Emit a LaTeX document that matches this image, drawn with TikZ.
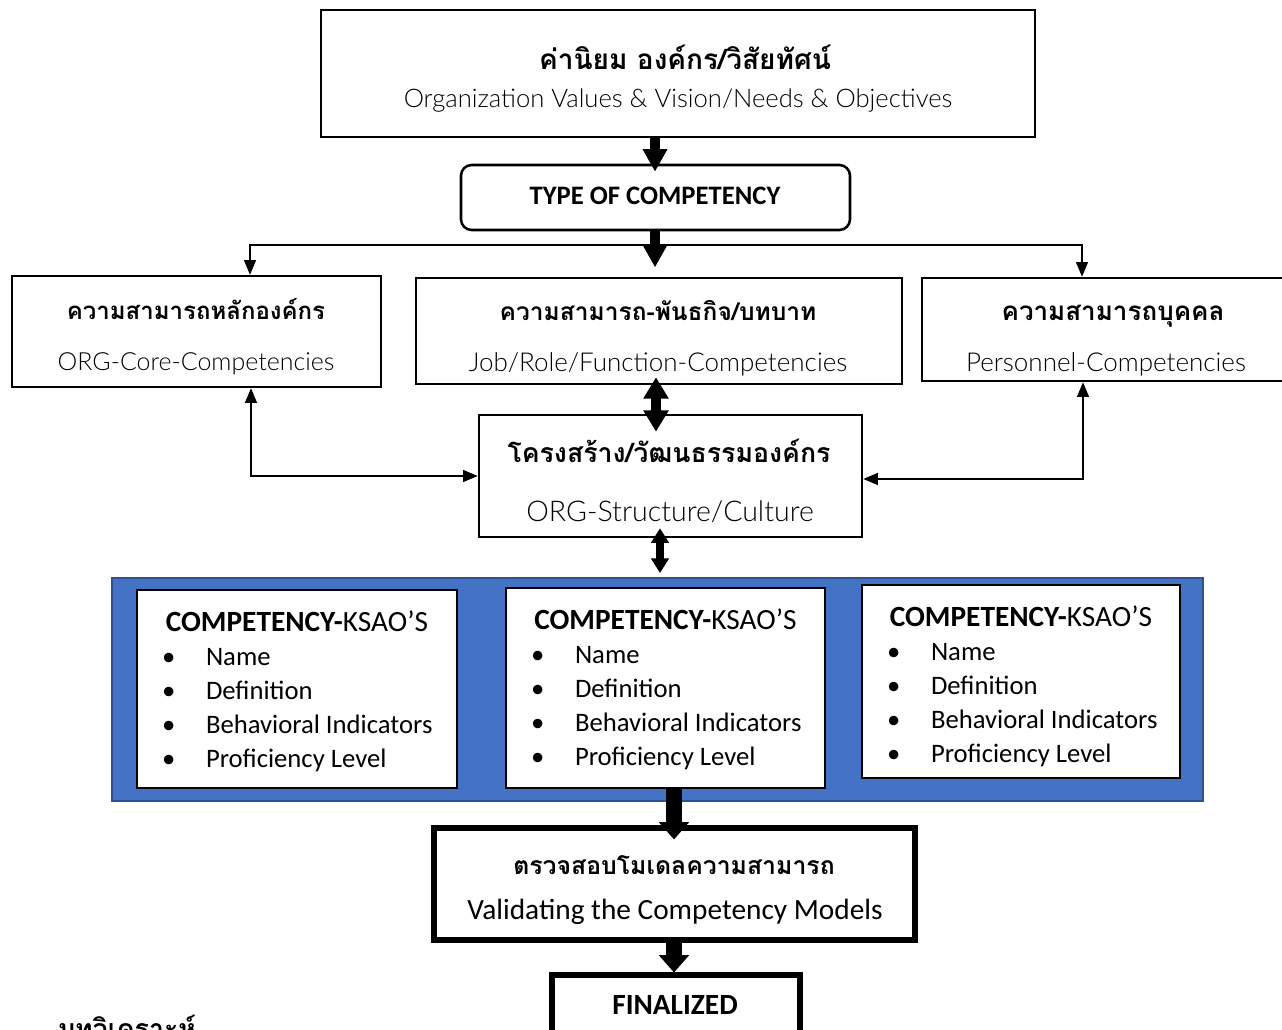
\documentclass[tikz,border=0pt]{standalone}
\usepackage{fontspec}
\setmainfont{Carlito}
\newfontfamily\thaifont[Script=Thai]{Loma}
\newfontfamily\lightfont{Lato Light}
\usetikzlibrary{arrows.meta,fit,calc}

\definecolor{panelblue}{HTML}{4472C4}
\definecolor{paneledge}{HTML}{2F528F}

\tikzset{
  box/.style={draw, line width=1.9pt, fill=white, inner sep=0pt},
  heavybox/.style={draw, line width=3.8pt, fill=white, inner sep=0pt},
  panel/.style={draw=paneledge, line width=1.5pt, fill=panelblue, inner sep=0pt},
  thaihead/.style={font=\thaifont\bfseries\fontsize{#1}{#1}\selectfont, inner sep=0pt, anchor=base},
  lightline/.style={font=\lightfont\fontsize{#1}{#1}\selectfont, inner sep=0pt, anchor=base},
  calline/.style={font=\fontsize{#1}{#1}\selectfont, inner sep=0pt, anchor=base},
  calbold/.style={font=\bfseries\fontsize{#1}{#1}\selectfont, inner sep=0pt, anchor=base},
  fatarrow/.style={line width=7.2pt, -{Triangle[width=17.5pt,length=17pt]}},
  fatboth/.style={line width=8pt, {Triangle[width=18pt,length=16pt]}-{Triangle[width=18pt,length=16pt]}},
  slimboth/.style={line width=5.5pt, {Triangle[width=13pt,length=11pt]}-{Triangle[width=13pt,length=11pt]}},
  heavyarrow/.style={line width=12pt, -{Triangle[width=22pt,length=13pt]}},
  link/.style={line width=0.9pt, -{Triangle[width=9pt,length=11pt]}},
  linkboth/.style={line width=0.9pt, {Triangle[width=9pt,length=11pt]}-{Triangle[width=9pt,length=11pt]}},
}

\begin{document}
\begin{tikzpicture}[x=0.75pt,y=-0.75pt]
\clip (0,0) rectangle (1282,1030);
\fill[white] (0,0) rectangle (1282,1030);

% guide coordinates for the vertical connectors
\coordinate (ax) at (655,0);
\coordinate (dx) at (656,0);
\coordinate (bx) at (660,0);
\coordinate (cx) at (674,0);
\coordinate (sl) at (250,245);
\coordinate (sr) at (1082,245);
\coordinate (lc) at (251,476);
\coordinate (rc) at (1083,479);

% top: values and vision
\node[box, line width=2.2pt, fit={(321,10) (1035,137)}] (values) {};
\node[thaihead=21pt] (valuesTh) at (685,70) {ค่านิยม องค์กร/วิสัยทัศน์};
\node[lightline=19.2pt] (valuesEn) at (678,108) {Organization Values \& Vision/Needs \& Objectives};

% type of competency
\node[box, rounded corners=8pt, fit={(461,165) (850,230)}] (type) {};
\node[calbold=20pt] (typeTx) at (655,205) {TYPE OF COMPETENCY};

% three kinds of competency
\node[box, fit={(12,276) (381,387)}] (left) {};
\node[thaihead=18pt] (leftTh) at (196,320) {ความสามารถหลักองค์กร};
\node[lightline=18.7pt] (leftEn) at (196,371) {ORG-Core-Competencies};

\node[box, fit={(416,278) (902,384)}] (mid) {};
\node[thaihead=18.4pt] (midTh) at (658,321) {ความสามารถ-พันธกิจ/บทบาท};
\node[lightline=19.5pt] (midEn) at (658,372) {Job/Role/Function-Competencies};

\node[box, fit={(922,278) (1300,381)}] (right) {};
\node[thaihead=19.5pt] (rightTh) at (1113,321) {ความสามารถบุคคล};
\node[lightline=19.5pt] (rightEn) at (1106,372) {Personnel-Competencies};

% structure / culture
\node[box, fit={(479,415) (862,537)}] (struct) {};
\node[thaihead=20pt] (structTh) at (669,463) {โครงสร้าง/วัฒนธรรมองค์กร};
\node[lightline=21.4pt] (structEn) at (670,522) {ORG-Structure/Culture};

% KSAO panel
\node[panel, fit={(112,578) (1203,801)}] (panel) {};
\node[box, fit={(137,590) (457,788)}] (k1) {};
\node[box, fit={(506,588) (825,788)}] (k2) {};
\node[box, fit={(862,585) (1180,778)}] (k3) {};
\foreach \k in {1,2,3}{
  \node[calbold=22pt] (k\k-title) at ($(k\k.north)+(0,43)$) {COMPETENCY-\mdseries KSAO’S};
  \foreach \t [count=\i from 0] in {Name,Definition,Behavioral Indicators,Proficiency Level}{
    \node[calline=20pt] (k\k-dot\i) at ($(k\k.north west)+(33,77+34*\i)$) {•};
    \node[calline=20pt, anchor=base west] (k\k-item\i) at ($(k\k.north west)+(70,77+34*\i)$) {\t};
  }
}

% validation and final
\node[heavybox, fit={(434,828) (915,940)}] (valid) {};
\node[thaihead=18.6pt] (validTh) at (674,874) {ตรวจสอบโมเดลความสามารถ};
\node[calline=22pt] (validEn) at (675,919) {Validating the Competency Models};

\node[heavybox, fit={(552,975) (800,1070)}] (final) {};
\node[calbold=22pt] (finalTx) at (675,1014) {FINALIZED};

\node[thaihead=20pt, anchor=base west] (analysis) at (58,1038) {บทวิเคราะห์};

% thin connectors
\draw[link] (ax |- sl) -| (left.north -| sl);
\draw[link] (ax |- sr) -| (right.north -| sr);
\draw[linkboth] (left.south -| lc) |- (struct.west |- lc);
\draw[linkboth] (struct.east |- rc) -| (right.south -| rc);

% heavy connectors
\draw[fatarrow] (values.south -| ax) -- ($(type.north -| ax)+(0,8)$);
\draw[fatarrow, shorten >=7pt] (type.south -| ax) -- (mid.north -| ax);
\draw[fatboth] ($(mid.south -| dx)+(0,-8)$) -- ($(struct.north -| dx)+(0,18)$);
\draw[slimboth] ($(struct.south -| bx)+(0,-10)$) -- ($(panel.north -| bx)+(0,-4)$);
\draw[heavyarrow] (k2.south -| cx) -- ($(valid.north -| cx)+(0,14)$);
\draw[heavyarrow] (valid.south -| cx) -- (final.north -| cx);
\end{tikzpicture}
\end{document}
